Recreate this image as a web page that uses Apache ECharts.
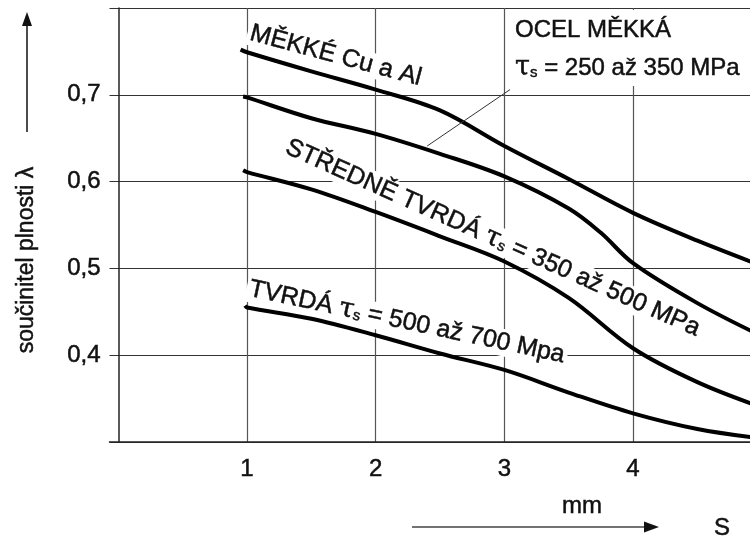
<!DOCTYPE html>
<html><head><meta charset="utf-8">
<script src="https://cdn.jsdelivr.net/npm/echarts@6/dist/echarts.min.js"></script>
<style>html,body{margin:0;padding:0;background:#fff}#c{width:750px;height:539px}</style>
</head><body><div id="c"></div>
<script>
// ---- data ----
const xTicks = [1, 2, 3, 4];
const yTicks = [0.4, 0.5, 0.6, 0.7];
const cuAlX  = [0.95, 1, 1.5, 2, 2.5, 3, 3.5, 4, 4.5, 5];
const cuAlY  = [0.752, 0.749, 0.727, 0.706, 0.682, 0.641, 0.603, 0.564, 0.532, 0.503];
const ocelX  = [0.97, 1, 1.5, 2, 2.5, 3, 3.5, 3.75, 4, 4.5, 5];
const ocelY  = [0.698, 0.697, 0.673, 0.655, 0.632, 0.606, 0.569, 0.541, 0.506, 0.460, 0.422];
const stredX = [0.97, 1, 1.5, 2, 2.5, 3, 3.5, 4, 4.5, 5];
const stredY = [0.613, 0.611, 0.591, 0.565, 0.537, 0.508, 0.466, 0.408, 0.369, 0.340];
const tvrdaX = [0.985, 1, 1.5, 2, 2.5, 3, 3.5, 4, 4.5, 5];
const tvrdaY = [0.457, 0.455, 0.442, 0.423, 0.402, 0.383, 0.357, 0.333, 0.315, 0.304];
// annotation texts and their anchors (data space)
const curveLabels  = ['MĚKKÉ Cu a Al', 'STŘEDNĚ TVRDÁ {t|τ}{s|s} = 350 až 500 MPa', 'TVRDÁ {t|τ}{s|s} = 500 až 700 Mpa'];
const labelAnchors = [[1.69, 0.745], [2.91, 0.535], [2.243, 0.438]];
const labelAngles  = [15, 24, 12];
const ocelLines    = ['OCEL MĚKKÁ', '{t|τ}{s|s} = 250 až 350 MPa'];
const ocelAnchor   = [3.083, 0.774, 0.731];
const arrowFrom    = [3.044, 0.706];
const arrowTo      = [2.40, 0.641];
const yName = 'součinitel plnosti λ';
const xUnit = 'mm';
const xName = 'S';

const FONT = '"Liberation Sans", Arial, sans-serif';
const INK = '#111';
const zip = (xs, ys) => xs.map((x, i) => [x, ys[i]]);
const chart = echarts.init(document.getElementById('c'), null, {renderer: 'canvas'});

const lineSeries = (name, xs, ys, extra) => Object.assign({
  name, type: 'line', data: zip(xs, ys), symbol: 'none', smooth: 0.35, z: 3,
  lineStyle: {color: '#000', width: 4}, animation: false, clip: true
}, extra || {});

const labelFont = {fontSize: 24, color: INK, fontFamily: FONT, textBorderColor: INK, textBorderWidth: 0.5};

chart.setOption({
  animation: false,
  backgroundColor: '#fff',
  grid: {left: 109.5, right: 0, top: 8, bottom: 97, containLabel: false},
  xAxis: {
    type: 'value', min: -0.0687, max: 4.909,
    axisLine: {show: true, lineStyle: {color: '#222', width: 1.5}},
    axisTick: {show: false, customValues: xTicks},
    axisLabel: Object.assign({customValues: xTicks, margin: 15, formatter: v => String(v)}, labelFont),
    splitLine: {show: false}
  },
  yAxis: {
    type: 'value', min: 0.3, max: 0.8, interval: 0.1,
    axisLine: {show: true, lineStyle: {color: '#222', width: 1.5}},
    axisTick: {show: false},
    axisLabel: Object.assign({margin: 9, showMinLabel: false, showMaxLabel: false,
      formatter: v => yTicks.some(t => Math.abs(t - v) < 1e-6) ? v.toFixed(1).replace('.', ',') : ''}, labelFont),
    splitLine: {show: true, lineStyle: {color: '#333', width: 1.2}}
  },
  series: [
    {type: 'line', data: [], z: 0, silent: true,
      markLine: {silent: true, animation: false, z: 0, symbol: 'none', label: {show: false},
        lineStyle: {color: '#555', width: 1.2, type: 'solid'},
        data: xTicks.map(v => ({xAxis: v}))}},
    lineSeries('MĚKKÉ Cu a Al', cuAlX, cuAlY),
    lineSeries('OCEL MĚKKÁ', ocelX, ocelY, {
      markLine: {
        silent: true, animation: false, symbol: ['none', 'arrow'], symbolSize: [0, 16],
        lineStyle: {color: '#333', width: 1, type: 'solid'}, label: {show: false},
        data: [[{coord: arrowFrom}, {coord: arrowTo}]]
      }
    }),
    lineSeries('STŘEDNĚ TVRDÁ', stredX, stredY),
    lineSeries('TVRDÁ', tvrdaX, tvrdaY)
  ]
});

const px = p => chart.convertToPixel({gridIndex: 0}, p);
const rich = () => ({
  t: {fontSize: 27, fontFamily: '"DejaVu Serif", serif', fill: INK, stroke: INK, lineWidth: 0.5},
  s: {fontSize: 15, fontFamily: FONT, fill: INK, stroke: INK, lineWidth: 0.4, padding: [9, 0, 0, 0]}
});
const textStyle = (text, extra) => Object.assign({
  text, fontSize: 24, fontFamily: FONT, fill: INK, stroke: INK, lineWidth: 0.5,
  align: 'center', verticalAlign: 'middle', rich: rich()
}, extra || {});

const graphics = [];
curveLabels.forEach((t, i) => {
  const p = px(labelAnchors[i]);
  graphics.push({type: 'text', x: p[0], y: p[1], rotation: -labelAngles[i] * Math.PI / 180, z: 1,
    style: textStyle(t, {fontSize: 25, backgroundColor: '#fff', padding: [0, 3]})});
});
// OCEL box
const o1 = px([ocelAnchor[0], ocelAnchor[1]]);
const o2 = px([ocelAnchor[0], ocelAnchor[2]]);
graphics.push({type: 'rect', shape: {x: o1[0] - 2, y: 10, width: 750 - o1[0] + 2, height: o2[1] + 18 - 10}, style: {fill: '#fff'}, z: 1});
graphics.push({type: 'text', x: o1[0], y: o1[1], z: 1, style: textStyle(ocelLines[0], {align: 'left'})});
graphics.push({type: 'text', x: o1[0], y: o2[1], z: 1, style: textStyle(ocelLines[1], {align: 'left'})});
// y axis name + arrow
graphics.push({type: 'text', x: 27, y: 260, rotation: Math.PI / 2, style: textStyle(yName, {fontSize: 23})});
graphics.push({type: 'line', shape: {x1: 27, y1: 132, x2: 27, y2: 24}, style: {stroke: INK, lineWidth: 1.5}});
graphics.push({type: 'polygon', shape: {points: [[27, 12], [22, 26], [32, 26]]}, style: {fill: INK}});
// x unit + name + arrow
graphics.push({type: 'text', x: 582, y: 506, style: textStyle(xUnit)});
graphics.push({type: 'line', shape: {x1: 412, y1: 527, x2: 646, y2: 527}, style: {stroke: '#444', lineWidth: 1.5}});
graphics.push({type: 'polygon', shape: {points: [[659, 527], [644, 521.5], [644, 532.5]]}, style: {fill: INK}});
graphics.push({type: 'text', x: 722, y: 528, style: textStyle(xName)});

chart.setOption({graphic: graphics});
</script>
</body></html>
